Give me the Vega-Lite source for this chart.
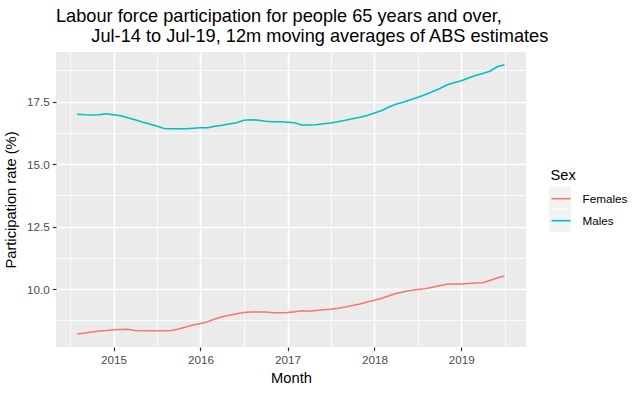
{
  "$schema": "https://vega.github.io/schema/vega-lite/v6.json",
  "width": 470,
  "height": 295,
  "autosize": {"type": "none"},
  "padding": {"left": 56, "top": 52, "right": 114, "bottom": 46},
  "background": "white",
  "view": {"fill": "#EBEBEB", "stroke": null},
  "title": {
    "text": ["Labour force participation for people 65 years and over,", "\u200b\u00a0\u00a0\u00a0\u00a0\u00a0\u00a0\u00a0Jul-14 to Jul-19, 12m moving averages of ABS estimates"],
    "anchor": "start",
    "frame": "group",
    "font": "Liberation Sans",
    "fontSize": 18.2,
    "fontWeight": "normal",
    "color": "black",
    "lineHeight": 19.5,
    "offset": 6
  },
  "data": {
    "values": [
      {"month": "2014-08-01", "Females": 8.2, "Males": 17.0},
      {"month": "2014-09-01", "Females": 8.24, "Males": 16.98},
      {"month": "2014-10-01", "Females": 8.28, "Males": 16.97},
      {"month": "2014-11-01", "Females": 8.32, "Males": 16.98},
      {"month": "2014-12-01", "Females": 8.34, "Males": 17.02},
      {"month": "2015-01-01", "Females": 8.37, "Males": 16.98},
      {"month": "2015-02-01", "Females": 8.38, "Males": 16.94},
      {"month": "2015-03-01", "Females": 8.39, "Males": 16.86},
      {"month": "2015-04-01", "Females": 8.34, "Males": 16.78},
      {"month": "2015-05-01", "Females": 8.33, "Males": 16.69},
      {"month": "2015-06-01", "Females": 8.33, "Males": 16.61},
      {"month": "2015-07-01", "Females": 8.33, "Males": 16.53},
      {"month": "2015-08-01", "Females": 8.33, "Males": 16.43},
      {"month": "2015-09-01", "Females": 8.34, "Males": 16.42},
      {"month": "2015-10-01", "Females": 8.4, "Males": 16.42},
      {"month": "2015-11-01", "Females": 8.48, "Males": 16.42},
      {"month": "2015-12-01", "Females": 8.56, "Males": 16.44},
      {"month": "2016-01-01", "Females": 8.62, "Males": 16.46},
      {"month": "2016-02-01", "Females": 8.69, "Males": 16.46},
      {"month": "2016-03-01", "Females": 8.8, "Males": 16.52},
      {"month": "2016-04-01", "Females": 8.89, "Males": 16.56},
      {"month": "2016-05-01", "Females": 8.95, "Males": 16.61},
      {"month": "2016-06-01", "Females": 9.01, "Males": 16.66},
      {"month": "2016-07-01", "Females": 9.06, "Males": 16.76},
      {"month": "2016-08-01", "Females": 9.08, "Males": 16.78},
      {"month": "2016-09-01", "Females": 9.08, "Males": 16.76},
      {"month": "2016-10-01", "Females": 9.08, "Males": 16.72},
      {"month": "2016-11-01", "Females": 9.05, "Males": 16.7},
      {"month": "2016-12-01", "Females": 9.05, "Males": 16.7},
      {"month": "2017-01-01", "Females": 9.06, "Males": 16.68},
      {"month": "2017-02-01", "Females": 9.09, "Males": 16.66},
      {"month": "2017-03-01", "Females": 9.13, "Males": 16.57},
      {"month": "2017-04-01", "Females": 9.11, "Males": 16.57},
      {"month": "2017-05-01", "Females": 9.14, "Males": 16.58},
      {"month": "2017-06-01", "Females": 9.17, "Males": 16.62},
      {"month": "2017-07-01", "Females": 9.19, "Males": 16.65},
      {"month": "2017-08-01", "Females": 9.23, "Males": 16.7},
      {"month": "2017-09-01", "Females": 9.28, "Males": 16.76},
      {"month": "2017-10-01", "Females": 9.34, "Males": 16.82},
      {"month": "2017-11-01", "Females": 9.4, "Males": 16.88},
      {"month": "2017-12-01", "Females": 9.48, "Males": 16.95},
      {"month": "2018-01-01", "Females": 9.55, "Males": 17.05},
      {"month": "2018-02-01", "Females": 9.63, "Males": 17.15},
      {"month": "2018-03-01", "Females": 9.72, "Males": 17.28},
      {"month": "2018-04-01", "Females": 9.82, "Males": 17.4},
      {"month": "2018-05-01", "Females": 9.88, "Males": 17.48},
      {"month": "2018-06-01", "Females": 9.94, "Males": 17.58},
      {"month": "2018-07-01", "Females": 9.98, "Males": 17.67},
      {"month": "2018-08-01", "Females": 10.01, "Males": 17.78},
      {"month": "2018-09-01", "Females": 10.07, "Males": 17.9},
      {"month": "2018-10-01", "Females": 10.13, "Males": 18.02},
      {"month": "2018-11-01", "Females": 10.19, "Males": 18.17},
      {"month": "2018-12-01", "Females": 10.2, "Males": 18.26},
      {"month": "2019-01-01", "Females": 10.2, "Males": 18.34},
      {"month": "2019-02-01", "Females": 10.22, "Males": 18.45},
      {"month": "2019-03-01", "Females": 10.24, "Males": 18.55},
      {"month": "2019-04-01", "Females": 10.25, "Males": 18.63},
      {"month": "2019-05-01", "Females": 10.34, "Males": 18.72},
      {"month": "2019-06-01", "Females": 10.44, "Males": 18.9},
      {"month": "2019-07-01", "Females": 10.52, "Males": 18.98}
    ]
  },
  "transform": [{"fold": ["Females", "Males"], "as": ["Sex", "rate"]}],
  "encoding": {
    "x": {
      "field": "month",
      "type": "temporal",
      "title": "Month",
      "scale": {
        "type": "utc",
        "domain": [{"year": 2014, "month": 5, "date": 4, "utc": true}, {"year": 2019, "month": 9, "date": 30, "utc": true}],
        "nice": false
      },
      "axis": {
        "values": [
          {"year": 2014, "month": 7, "date": 2, "utc": true},
          {"year": 2015, "month": 1, "date": 1, "utc": true},
          {"year": 2015, "month": 7, "date": 2, "utc": true},
          {"year": 2016, "month": 1, "date": 1, "utc": true},
          {"year": 2016, "month": 7, "date": 2, "utc": true},
          {"year": 2017, "month": 1, "date": 1, "utc": true},
          {"year": 2017, "month": 7, "date": 2, "utc": true},
          {"year": 2018, "month": 1, "date": 1, "utc": true},
          {"year": 2018, "month": 7, "date": 2, "utc": true},
          {"year": 2019, "month": 1, "date": 1, "utc": true},
          {"year": 2019, "month": 7, "date": 2, "utc": true}
        ],
        "labelExpr": "utcmonth(datum.value) === 0 ? utcFormat(datum.value, '%Y') : ''",
        "gridWidth": {"condition": {"test": "utcmonth(datum.value) === 0", "value": 1.6}, "value": 0.8},
        "tickOpacity": {"condition": {"test": "utcmonth(datum.value) === 0", "value": 1}, "value": 0},
        "labelPadding": 4,
        "titlePadding": 4
      }
    },
    "y": {
      "field": "rate",
      "type": "quantitative",
      "title": "Participation rate (%)",
      "scale": {"domain": [7.68, 19.49], "nice": false, "zero": false},
      "axis": {
        "values": [8.75, 10, 11.25, 12.5, 13.75, 15, 16.25, 17.5, 18.75],
        "labelExpr": "datum.value % 2.5 === 0 ? format(datum.value, '.1f') : ''",
        "gridWidth": {"condition": {"test": "datum.value % 2.5 === 0", "value": 1.6}, "value": 0.8},
        "tickOpacity": {"condition": {"test": "datum.value % 2.5 === 0", "value": 1}, "value": 0},
        "labelPadding": 3,
        "titlePadding": 8
      }
    }
  },
  "layer": [
    {
      "mark": {"type": "point", "filled": true, "size": 0, "opacity": 0},
      "encoding": {
        "fill": {
          "field": "Sex",
          "type": "nominal",
          "scale": {"domain": ["Males", "Females"], "range": ["#F2F2F2", "#F2F2F2"]},
          "legend": {
            "orient": "none",
            "legendX": 493,
            "legendY": 114,
            "title": "Sex",
            "titleOpacity": 0,
            "labelExpr": "''",
            "labelOpacity": 0,
            "symbolOpacity": 1,
            "symbolType": "square",
            "symbolSize": 484,
            "symbolStrokeWidth": 0,
            "rowPadding": 1,
            "labelOffset": 10,
            "titlePadding": 6,
            "padding": 0,
            "zindex": 0
          }
        }
      }
    },
    {
      "mark": {"type": "line", "strokeWidth": 1.6, "clip": true},
      "encoding": {
        "color": {
          "field": "Sex",
          "type": "nominal",
          "scale": {"domain": ["Females", "Males"], "range": ["#F8766D", "#00BFC4"]},
          "legend": {
            "orient": "none",
            "legendX": 494.5,
            "legendY": 115.5,
            "title": "Sex",
            "symbolType": "stroke",
            "symbolSize": 361,
            "symbolStrokeWidth": 1.6,
            "rowPadding": 4,
            "labelOffset": 11,
            "titlePadding": 6,
            "padding": 0,
            "zindex": 1
          }
        }
      }
    }
  ],
  "config": {
    "font": "Liberation Sans",
    "axis": {
      "domain": false,
      "grid": true,
      "gridColor": "white",
      "gridOpacity": 1,
      "tickColor": "#333333",
      "tickSize": 3.7,
      "tickWidth": 1.2,
      "labelColor": "#4D4D4D",
      "labelFont": "Liberation Sans",
      "labelFontSize": 11.7,
      "labelOverlap": false,
      "labelFlush": false,
      "labelBound": false,
      "titleFont": "Liberation Sans",
      "titleFontSize": 14.7,
      "titleFontWeight": "normal",
      "titleColor": "black"
    },
    "legend": {
      "titleFont": "Liberation Sans",
      "titleFontSize": 14.7,
      "titleFontWeight": "normal",
      "titleColor": "black",
      "labelFont": "Liberation Sans",
      "labelFontSize": 11.7,
      "labelColor": "black"
    }
  }
}
